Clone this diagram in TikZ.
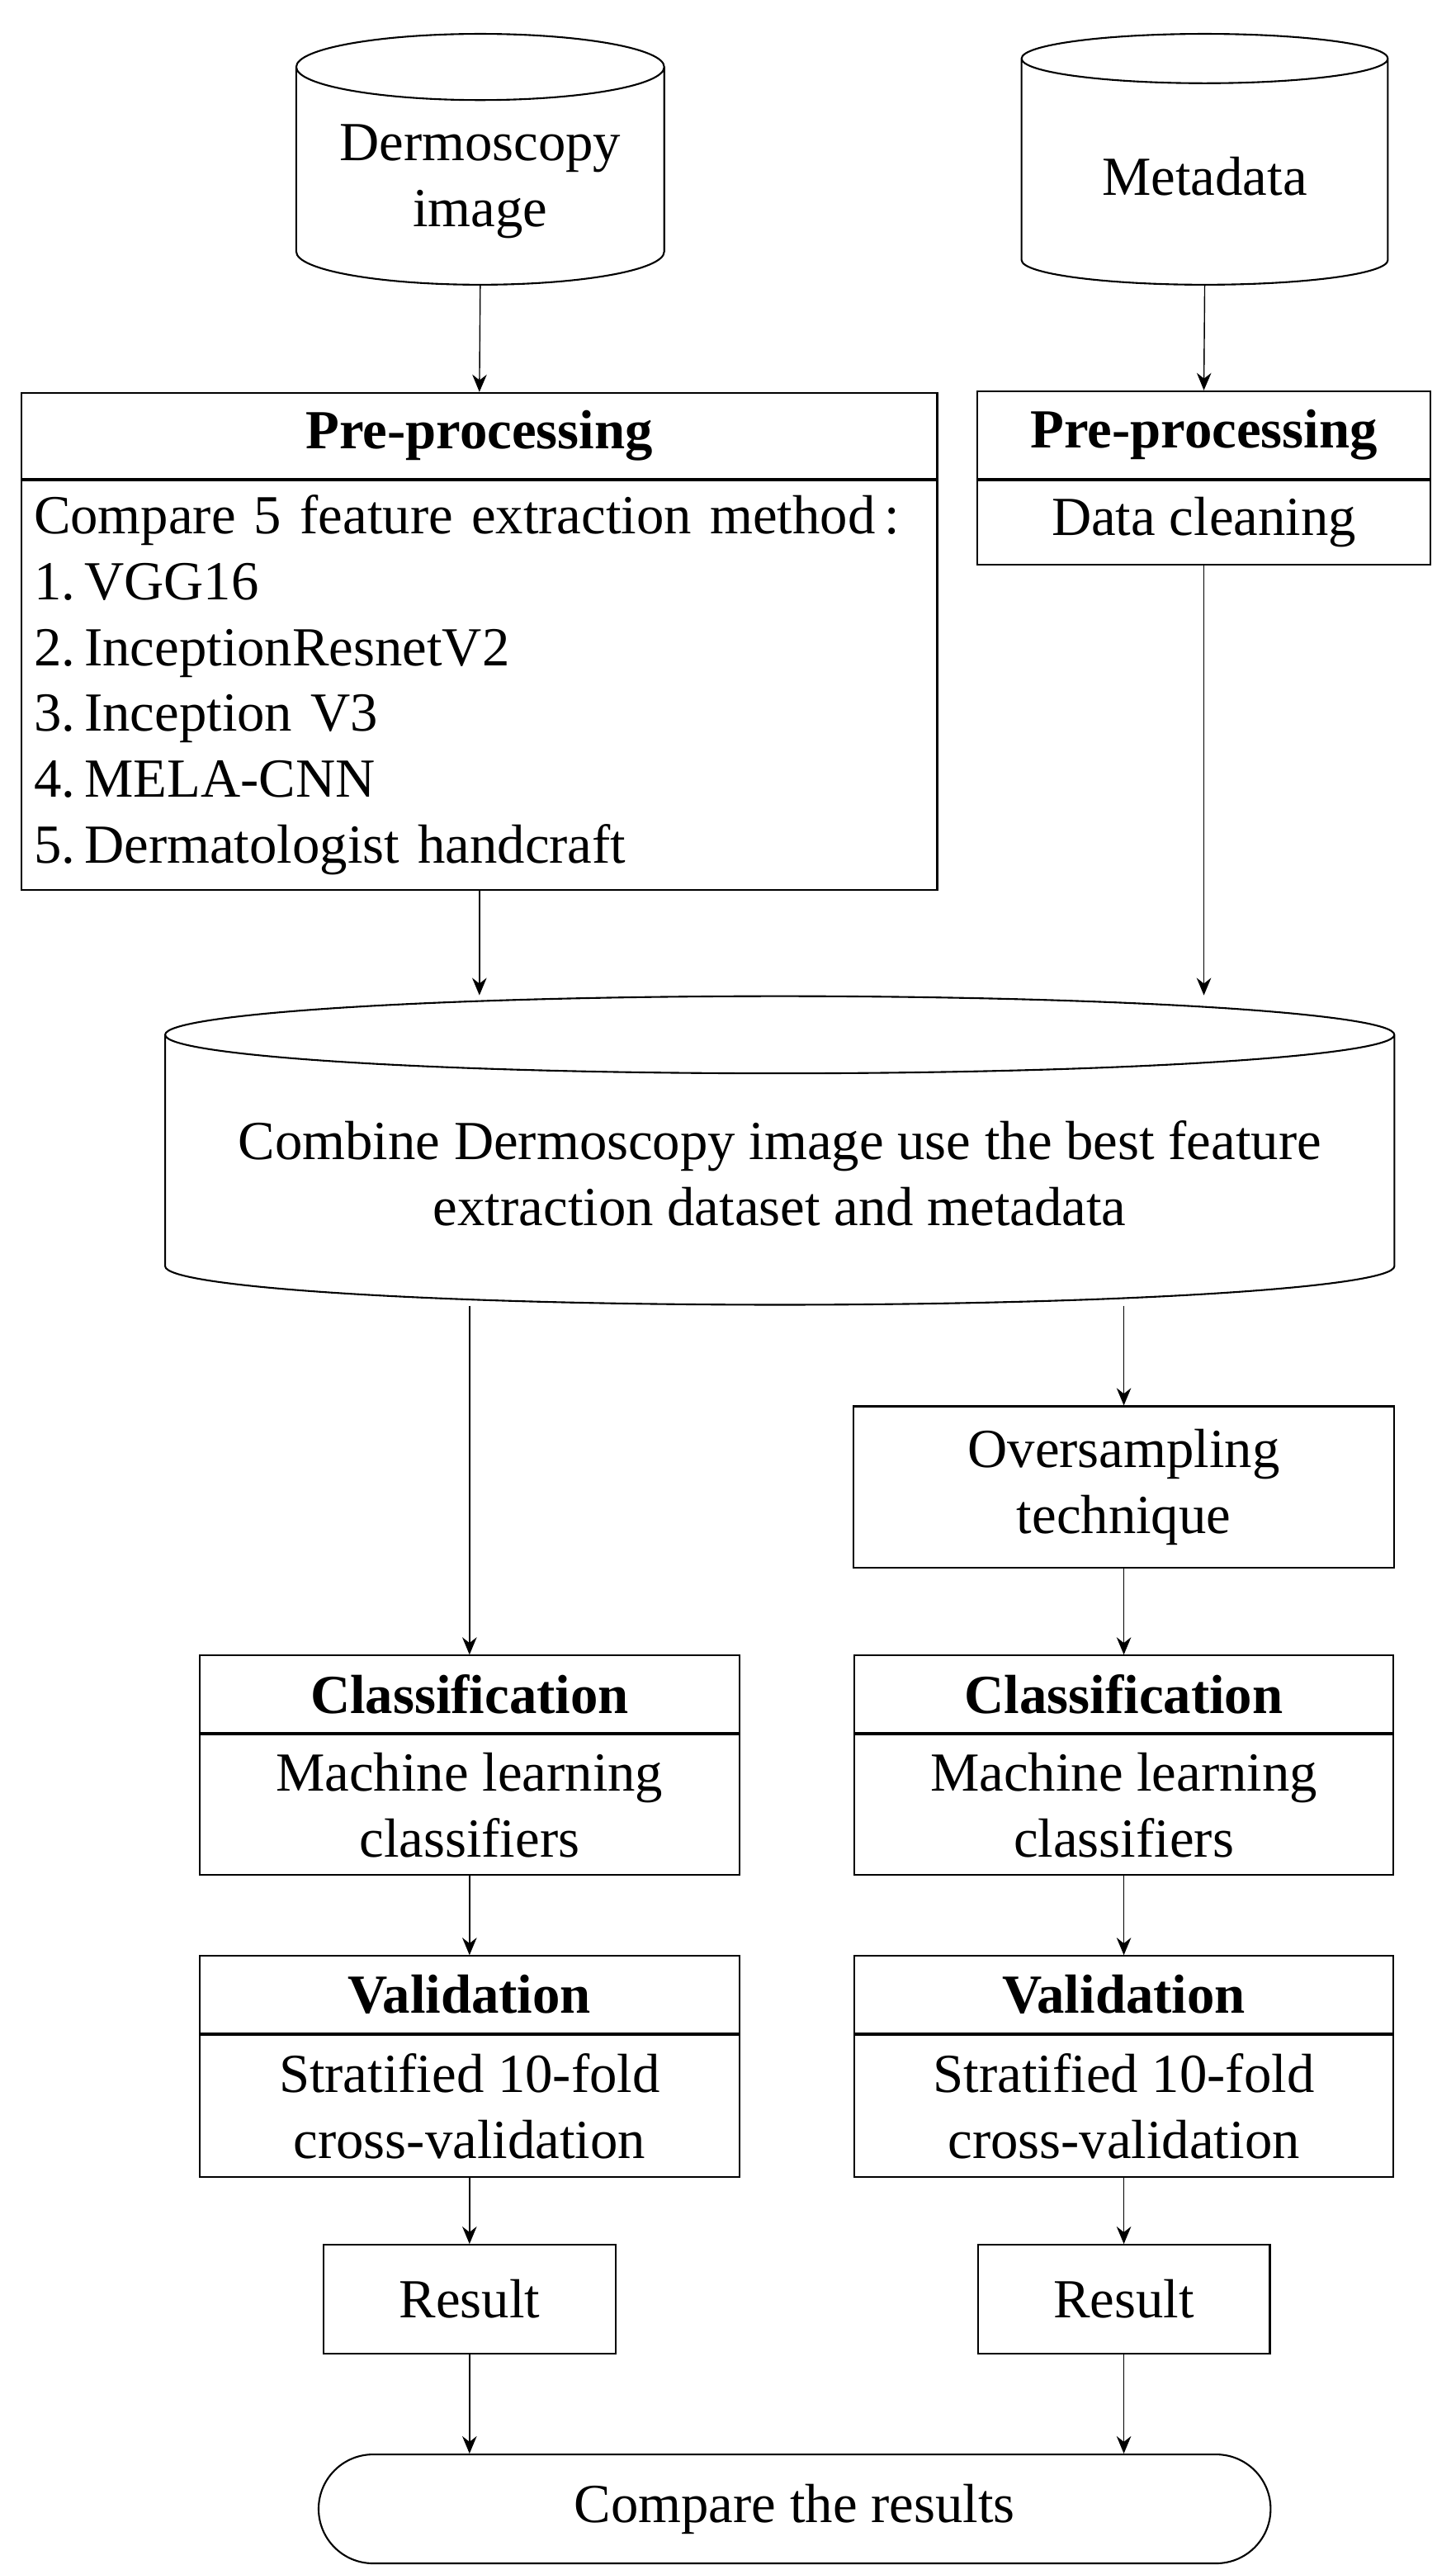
\documentclass[tikz,border=0pt]{standalone}
\usepackage{fontspec}
\setmainfont{Liberation Serif}
\usetikzlibrary{shapes.geometric,arrows.meta,positioning}
\tikzstyle{store} = [
 cylinder,
 shape border rotate=90,
 draw,
 semithick,
 align = center,
 anchor = north
]
\tikzstyle{box} = [
 rectangle,
 draw,
 semithick,
 align = center
]
\tikzstyle{flow} = [
 -{Stealth[length=6pt,width=5pt]},
 thin
]

\begin{document}
\begin{tikzpicture}[x=0.02cm,y=-0.02cm,font=\fontsize{19}{22.7}\selectfont]
  \useasboundingbox (0,0) rectangle (882,1554);
  % sources
  \node [store, minimum width=4.46cm, minimum height=3.04cm, aspect=0.22] (img) at (291,20) {Dermoscopy\\image};
  \node [store, minimum width=4.44cm, minimum height=3.04cm, aspect=0.22] (meta) at (730,20) {Metadata};
  % pre-processing
  \node [box, minimum width=11.1cm, minimum height=1.04cm] (pp1) at (290.5,264) {\textbf{Pre-processing}};
  \node [box, minimum width=11.1cm, minimum height=4.96cm, text width=10.8cm, align=left, anchor=north] (pp1b) at (pp1.south)
    {Compare 5 feature extraction method\,:\\
     1.\,VGG16\\ 2.\,InceptionResnetV2\\ 3.\,Inception V3\\ 4.\,MELA-CNN\\ 5.\,Dermatologist handcraft};
  \node [box, minimum width=5.5cm, minimum height=1.06cm] (pp2) at (729.5,263.5) {\textbf{Pre-processing}};
  \node [box, minimum width=5.5cm, minimum height=1.02cm, anchor=north] (pp2b) at (pp2.south) {Data cleaning};
  % combined data
  \node [store, minimum width=14.9cm, minimum height=3.74cm, aspect=0.07] (comb) at (472.5,603)
    {Combine Dermoscopy image use the best feature\\extraction dataset and metadata};
  \node [box, minimum width=6.56cm, minimum height=1.96cm] (over) at (681,901) {Oversampling\\technique};
  % classification and validation
  \foreach \name/\cx in {1/284.5, 2/681} {
    \node [box, minimum width=6.54cm, minimum height=0.94cm] (cls\name) at (\cx,1026.5) {\textbf{Classification}};
    \node [box, minimum width=6.54cm, minimum height=1.7cm, anchor=north] (cls\name b) at (cls\name.south) {Machine learning\\classifiers};
    \node [box, minimum width=6.54cm, minimum height=0.94cm] (val\name) at (\cx,1208.5) {\textbf{Validation}};
    \node [box, minimum width=6.54cm, minimum height=1.72cm, anchor=north] (val\name b) at (val\name.south) {Stratified 10-fold\\cross-validation};
    \node [box, minimum width=3.54cm, minimum height=1.32cm] (res\name) at (\cx,1393) {Result};
  }
  \node [box, minimum width=11.54cm, minimum height=1.32cm, rounded corners=0.66cm] (cmp) at (481.5,1520) {Compare the results};
  % connectors
  \draw [flow] (img.south) -- (pp1.north);
  \draw [flow] (meta.south) -- (pp2.north);
  \draw [flow] (pp1b.south) -- (pp1b.south |- comb.north);
  \draw [flow] (pp2b.south) -- (pp2b.south |- comb.north);
  \draw [flow] (cls1.north |- comb.south) -- (cls1.north);
  \draw [flow] (over.north |- comb.south) -- (over.north);
  \draw [flow] (over.south) -- (cls2.north);
  \foreach \name in {1,2} {
    \draw [flow] (cls\name b.south) -- (val\name.north);
    \draw [flow] (val\name b.south) -- (res\name.north);
    \draw [flow] (res\name.south) -- (res\name.south |- cmp.north);
  }
\end{tikzpicture}
\end{document}
